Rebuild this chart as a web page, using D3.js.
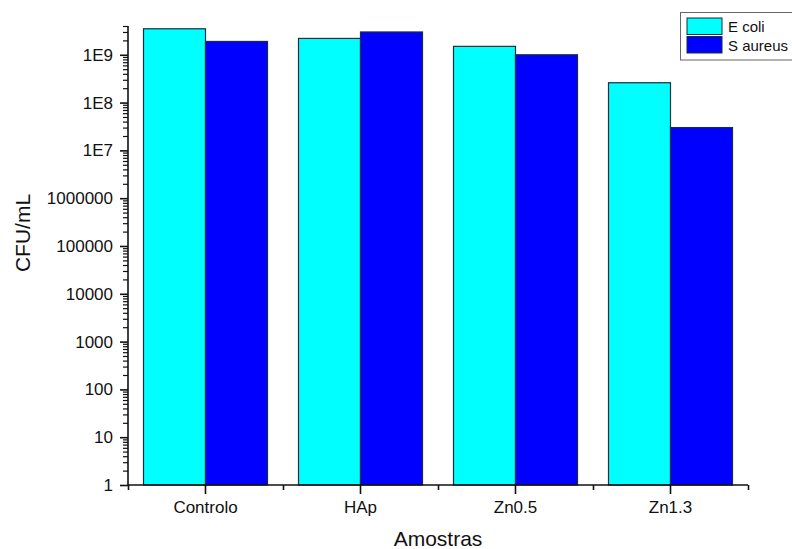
<!DOCTYPE html>
<html>
<head>
<meta charset="utf-8">
<script src="https://cdn.jsdelivr.net/npm/d3@7"></script>
<style>
  html, body { margin: 0; padding: 0; background: #fff; }
  svg { display: block; font-family: "Liberation Sans", Arial, sans-serif; }
</style>
</head>
<body>
<svg id="chart" width="792" height="549"></svg>
<script>
// Samples on the x axis
const categories = ["Controlo", "HAp", "Zn0.5", "Zn1.3"];
// Series names and colony counts (CFU/mL)
const seriesNames = ["E coli", "S aureus"];
const eColi = [3.5e9, 2.2e9, 1.5e9, 2.6e8];
const sAureus = [1.9e9, 3.0e9, 1.0e9, 3.0e7];
// Major tick values and their labels on the log axis
const yTickValues = [1, 10, 100, 1000, 1e4, 1e5, 1e6, 1e7, 1e8, 1e9];
const yTickLabels = ["1", "10", "100", "1000", "10000", "100000", "1000000", "1E7", "1E8", "1E9"];
const seriesColors = ["#00FFFF", "#0000FF"];

(function () {
const svg = d3.select("#chart");
const plotLeft = 128, plotRight = 748, plotTop = 26, plotBottom = 485;

const x = d3.scaleBand().domain(categories).range([plotLeft, plotRight]).padding(0);
const xs = d3.scaleBand().domain(seriesNames).range([0, x.bandwidth()]).paddingOuter(0.25).paddingInner(0);
const y = d3.scaleLog().domain([1, 4e9]).range([plotBottom, plotTop]);

const rows = categories.map((c, i) => ({ cat: c, values: [eColi[i], sAureus[i]] }));

// Bars
const g = svg.append("g");
rows.forEach(r => {
  r.values.forEach((v, j) => {
    g.append("rect")
      .attr("x", x(r.cat) + xs(seriesNames[j]))
      .attr("y", y(v))
      .attr("width", xs.bandwidth())
      .attr("height", y(1) - y(v))
      .attr("fill", seriesColors[j])
      .attr("stroke", "#1d2b3a")
      .attr("stroke-width", 1.2);
  });
});

// Y axis: minor log ticks
const minorVals = [];
for (let e = 0; e <= 9; e++) {
  for (let k = 2; k <= 9; k++) {
    const v = k * Math.pow(10, e);
    if (v <= 4e9) minorVals.push(v);
  }
}
svg.append("g")
  .attr("transform", `translate(${plotLeft},0)`)
  .call(d3.axisLeft(y).tickValues(minorVals).tickSize(5).tickFormat(""))
  .call(a => a.select(".domain").remove())
  .call(a => a.selectAll("line").attr("stroke", "#111").attr("stroke-width", 1.2));

// Y axis: major ticks
svg.append("g")
  .attr("transform", `translate(${plotLeft},0)`)
  .call(d3.axisLeft(y).tickValues(yTickValues).tickSize(8).tickPadding(7)
    .tickFormat((d, i) => yTickLabels[i]))
  .call(a => a.select(".domain").attr("d", `M0,${plotTop}V${plotBottom}`).attr("stroke", "#111").attr("stroke-width", 1.6))
  .call(a => a.selectAll("line").attr("stroke", "#111").attr("stroke-width", 1.6))
  .call(a => a.selectAll("text").attr("font-size", 17).attr("fill", "#111")
    .attr("font-family", "Liberation Sans, Arial, sans-serif"));

// X axis: minor ticks at group boundaries
const boundaries = categories.map(c => x(c)).concat([plotRight]);
const xLin = d3.scaleLinear().domain([plotLeft, plotRight]).range([plotLeft, plotRight]);
svg.append("g")
  .attr("transform", `translate(0,${plotBottom})`)
  .call(d3.axisBottom(xLin).tickValues(boundaries).tickSize(5).tickFormat(""))
  .call(a => a.select(".domain").remove())
  .call(a => a.selectAll("line").attr("stroke", "#111").attr("stroke-width", 1.6));

// X axis: major ticks at group centres
svg.append("g")
  .attr("transform", `translate(0,${plotBottom})`)
  .call(d3.axisBottom(x).tickSize(9).tickPadding(7))
  .call(a => a.select(".domain").attr("d", `M${plotLeft},0H${plotRight}`).attr("stroke", "#111").attr("stroke-width", 1.6))
  .call(a => a.selectAll("line").attr("stroke", "#111").attr("stroke-width", 1.6))
  .call(a => a.selectAll("text").attr("font-size", 17).attr("fill", "#111")
    .attr("font-family", "Liberation Sans, Arial, sans-serif"));

// Axis titles
svg.append("text")
  .attr("x", (plotLeft + plotRight) / 2).attr("y", 546)
  .attr("text-anchor", "middle").attr("font-size", 21).attr("fill", "#111")
  .text("Amostras");
svg.append("text")
  .attr("transform", "translate(30,233) rotate(-90)")
  .attr("text-anchor", "middle").attr("font-size", 21).attr("fill", "#111")
  .text("CFU/mL");

// Legend
const lg = svg.append("g");
lg.append("rect").attr("x", 680.5).attr("y", 12.5).attr("width", 120).attr("height", 47.5)
  .attr("fill", "#fff").attr("stroke", "#666").attr("stroke-width", 1);
seriesNames.forEach((n, j) => {
  const yy = 18 + j * 18.5;
  lg.append("rect").attr("x", 687).attr("y", yy).attr("width", 35).attr("height", 16.5)
    .attr("fill", seriesColors[j]).attr("stroke", "#1d2b3a").attr("stroke-width", 1);
  lg.append("text").attr("x", 728).attr("y", yy + 14).attr("font-size", 15).attr("fill", "#111").text(n);
});
})();
</script>
</body>
</html>
